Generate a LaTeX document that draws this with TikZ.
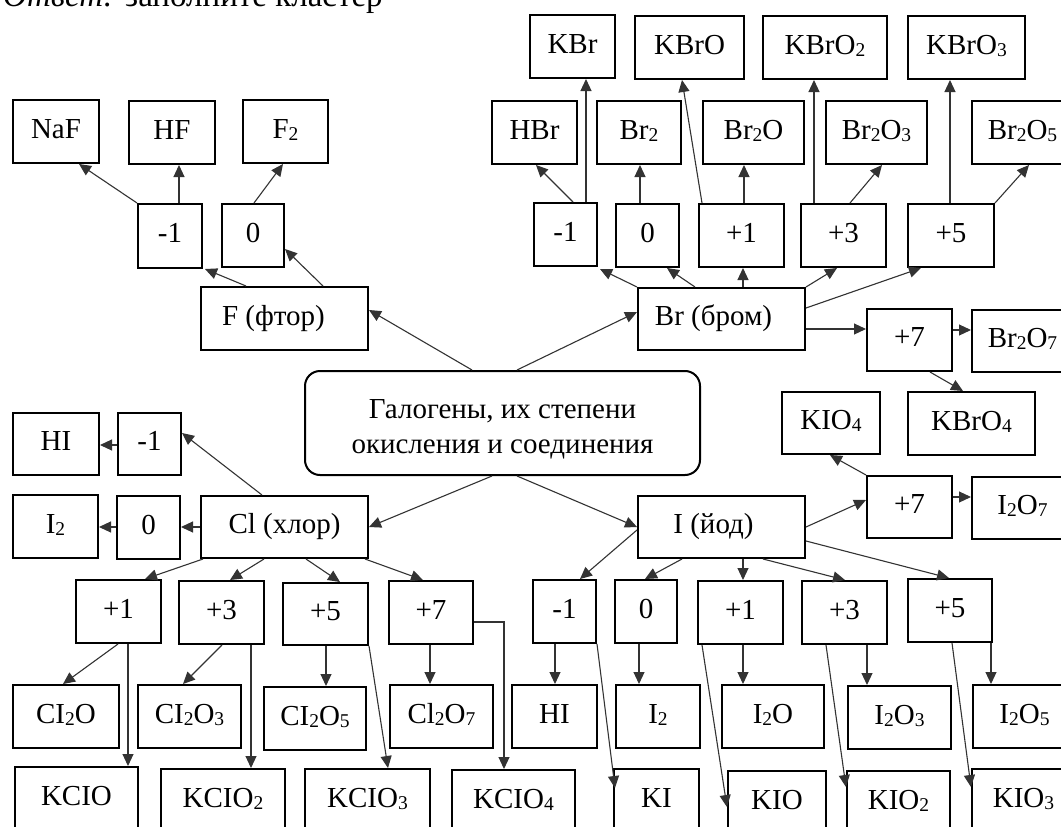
\documentclass[tikz,border=0pt]{standalone}
\usepackage{fontspec}
\setmainfont{Liberation Serif}
\usetikzlibrary{arrows.meta}
\newcommand{\sbt}[1]{\raisebox{-2pt}{\fontsize{19.5}{19.5}\selectfont #1}}
\newcommand{\mybox}[6]{\node[box,minimum width={#4pt-#2pt},minimum height={#5pt-#3pt}] (#1) at (#2,#3) {#6};}
\begin{document}
\begin{tikzpicture}[x=1pt,y=-1pt,
  box/.style={draw=black,line width=2pt,inner sep=0pt,anchor=north west,
    font=\fontsize{29}{35}\selectfont,text height=19.5pt,text depth=6pt},
  cbox/.style={draw=black,line width=2pt,inner sep=0pt,anchor=north west,
    rounded corners=15pt,align=center,font=\fontsize{29}{35}\selectfont},
  arr/.style={draw=black!80,line width=1.1pt,-{Triangle[length=12pt,width=11pt]}}]
\fill[white] (0,0) rectangle (1061,827);
\useasboundingbox (0,0) rectangle (1061,827);

\node[anchor=base west,inner sep=0pt,font=\fontsize{33}{33}\selectfont] (ans) at (3,6) {\textit{Ответ:} заполните кластер};

% center
\node[cbox,minimum width=395pt,minimum height=104pt] (cen) at (304,370)
  {Галогены, их степени\rule{0pt}{31pt}\\окисления и соединения};

% fluorine
\mybox{naf}{12}{99}{98}{162}{NaF}
\mybox{hf}{128}{100}{214}{163}{HF}
\mybox{ftwo}{242}{99}{327}{162}{F\sbt{2}}
\mybox{fm1}{137}{203}{201}{267}{-1}
\mybox{fzero}{221}{203}{283}{266}{0}
\mybox{fl}{200}{286}{367}{349}{F (фтор)\hspace*{22pt}}

% chlorine
\mybox{hil}{12}{412}{98}{474}{HI}
\mybox{clm1}{117}{412}{180}{474}{-1}
\mybox{itwol}{12}{494}{97}{557}{I\sbt{2}}
\mybox{clzero}{116}{495}{179}{558}{0}
\mybox{cl}{200}{495}{367}{557}{Cl (хлор)}
\mybox{clpa}{75}{579}{160}{642}{+1}
\mybox{clpb}{178}{580}{263}{643}{+3}
\mybox{clpc}{282}{582}{367}{644}{+5}
\mybox{clpd}{388}{580}{472}{643}{+7}
\mybox{clo}{12}{684}{118}{747}{CI\sbt{2}O}
\mybox{cloc}{137}{684}{240}{747}{CI\sbt{2}O\sbt{3}}
\mybox{cloe}{263}{686}{365}{749}{CI\sbt{2}O\sbt{5}}
\mybox{clog}{389}{684}{492}{747}{Cl\sbt{2}O\sbt{7}}
\mybox{kclo}{14}{766}{137}{829}{KCIO}
\mybox{kclob}{160}{768}{284}{831}{KCIO\sbt{2}}
\mybox{kcloc}{304}{768}{429}{831}{KCIO\sbt{3}}
\mybox{kclod}{451}{769}{574}{832}{KCIO\sbt{4}}

% bromine
\mybox{kbr}{529}{14}{614}{77}{KBr}
\mybox{kbro}{634}{15}{743}{78}{KBrO}
\mybox{kbrob}{762}{15}{886}{78}{KBrO\sbt{2}}
\mybox{kbroc}{907}{15}{1024}{78}{KBrO\sbt{3}}
\mybox{hbr}{491}{100}{576}{163}{HBr}
\mybox{brtwo}{596}{100}{680}{163}{Br\sbt{2}}
\mybox{bro}{702}{100}{803}{163}{Br\sbt{2}O}
\mybox{broc}{825}{100}{926}{163}{Br\sbt{2}O\sbt{3}}
\mybox{broe}{971}{100}{1072}{163}{Br\sbt{2}O\sbt{5}}
\mybox{brm1}{533}{202}{596}{265}{-1}
\mybox{brzero}{615}{203}{678}{266}{0}
\mybox{brpa}{698}{203}{783}{266}{+1}
\mybox{brpb}{800}{203}{885}{266}{+3}
\mybox{brpc}{907}{203}{993}{266}{+5}
\mybox{br}{637}{287}{804}{349}{Br (бром)\hspace*{16pt}}
\mybox{brpd}{866}{308}{951}{370}{+7}
\mybox{brog}{971}{309}{1072}{371}{Br\sbt{2}O\sbt{7}}
\mybox{kbrod}{907}{391}{1034}{454}{KBrO\sbt{4}}

% iodine
\mybox{kiod}{781}{391}{879}{453}{KIO\sbt{4}}
\mybox{ipd}{866}{475}{951}{537}{+7}
\mybox{iog}{971}{476}{1072}{538}{I\sbt{2}O\sbt{7}}
\mybox{iod}{637}{495}{804}{557}{I (йод)\hspace*{16pt}}
\mybox{imm}{532}{579}{595}{642}{-1}
\mybox{izero}{614}{579}{676}{642}{0}
\mybox{ipa}{697}{580}{782}{643}{+1}
\mybox{ipb}{801}{580}{886}{643}{+3}
\mybox{ipc}{907}{578}{991}{641}{+5}
\mybox{hi}{511}{684}{596}{747}{HI}
\mybox{itwo}{615}{684}{699}{747}{I\sbt{2}}
\mybox{io}{721}{684}{823}{747}{I\sbt{2}O}
\mybox{ioc}{847}{685}{950}{748}{I\sbt{2}O\sbt{3}}
\mybox{ioe}{972}{684}{1075}{747}{I\sbt{2}O\sbt{5}}
\mybox{ki}{613}{768}{698}{831}{KI}
\mybox{kio}{727}{770}{825}{833}{KIO}
\mybox{kiob}{846}{770}{949}{833}{KIO\sbt{2}}
\mybox{kioc}{971}{768}{1074}{831}{KIO\sbt{3}}

% fluorine arrows
\draw[arr] (fm1.north west) -- ([xshift=67pt]naf.south west);
\draw[arr] ([xshift=42pt]fm1.north west) -- ([xshift=42pt]fm1.north west |- hf.south);
\draw[arr] ([xshift=33pt]fzero.north west) -- ([xshift=41pt]ftwo.south west);
\draw[arr] ([xshift=46pt]fl.north west) -- ([xshift=2pt]fm1.south east);
\draw[arr] ([xshift=123pt]fl.north west) -- ([yshift=19pt]fzero.south east);
\draw[arr] ([xshift=168pt]cen.north west) -- ([yshift=-24pt]fl.north east);

% chlorine arrows
\draw[arr] ([xshift=188pt]cen.south west) -- ([yshift=-32pt]cl.north east);
\draw[arr] ([xshift=62pt]cl.north west) -- ([yshift=-21pt]clm1.north east);
\draw[arr] ([yshift=-33pt]clm1.north west) -- ([yshift=-33pt]clm1.north west -| hil.east);
\draw[arr] ([yshift=-32pt]cl.north west) -- ([yshift=-32pt]cl.north west -| clzero.east);
\draw[arr] ([yshift=-32pt]clzero.north west) -- ([yshift=-32pt]clzero.north west -| itwol.east);
\draw[arr] ([xshift=3pt]cl.south west) -- ([xshift=70pt]clpa.north west);
\draw[arr] ([xshift=64pt]cl.south west) -- ([xshift=52pt]clpb.north west);
\draw[arr] ([xshift=106pt]cl.south west) -- ([xshift=58pt]clpc.north west);
\draw[arr] ([xshift=165pt]cl.south west) -- ([xshift=35pt]clpd.north west);
\draw[arr] ([xshift=43pt]clpa.south west) -- ([xshift=51pt]clo.north west);
\draw[arr] ([xshift=53pt]clpa.south west) -- ([xshift=53pt]clpa.south west |- kclo.north);
\draw[arr] ([xshift=44pt]clpb.south west) -- ([xshift=46pt]cloc.north west);
\draw[arr] ([xshift=73pt]clpb.south west) -- ([xshift=73pt]clpb.south west |- kclob.north);
\draw[arr] ([xshift=44pt]clpc.south west) -- ([xshift=44pt]clpc.south west |- cloe.north);
\draw[arr] (clpc.south east) -- ([xshift=84pt]kcloc.north west);
\draw[arr] ([xshift=42pt]clpd.south west) -- ([xshift=42pt]clpd.south west |- clog.north);
\draw[arr] ([yshift=-42pt]clpd.north east) -| ([xshift=53pt]kclod.north west);

% bromine arrows
\draw[arr] ([xshift=213pt]cen.north west) -- ([yshift=-25pt]br.north west);
\draw[arr] (br.north west) -- ([xshift=2pt,yshift=-2pt]brm1.south east);
\draw[arr] ([xshift=58pt]br.north west) -- ([xshift=52pt]brzero.south west);
\draw[arr] ([xshift=106pt]br.north west) -- ([xshift=106pt]br.north west |- brpa.south);
\draw[arr] (br.north east) -- ([xshift=37pt]brpb.south west);
\draw[arr] ([yshift=-21pt]br.north east) -- ([xshift=14pt]brpc.south west);
\draw[arr] ([yshift=-42pt]br.north east) -- ([yshift=-42pt]br.north east -| brpd.west);
\draw[arr] ([yshift=-22pt]brpd.north east) -- ([yshift=-22pt]brpd.north east -| brog.west);
\draw[arr] ([xshift=64pt]brpd.south west) -- ([xshift=56pt]kbrod.north west);
\draw[arr] ([xshift=40pt]brm1.north west) -- ([xshift=45pt]hbr.south west);
\draw[arr] ([xshift=53pt]brm1.north west) -- ([xshift=53pt]brm1.north west |- kbr.south);
\draw[arr] ([xshift=25pt]brzero.north west) -- ([xshift=25pt]brzero.north west |- brtwo.south);
\draw[arr] ([xshift=46pt]brpa.north west) -- ([xshift=46pt]brpa.north west |- bro.south);
\draw[arr] ([xshift=4pt]brpa.north west) -- ([xshift=48pt]kbro.south west);
\draw[arr] ([xshift=14pt]brpb.north west) -- ([xshift=14pt]brpb.north west |- kbrob.south);
\draw[arr] ([xshift=50pt]brpb.north west) -- ([xshift=57pt]broc.south west);
\draw[arr] ([xshift=43pt]brpc.north west) -- ([xshift=43pt]brpc.north west |- kbroc.south);
\draw[arr] (brpc.north east) -- ([xshift=58pt]broe.south west);

% iodine arrows
\draw[arr] ([xshift=213pt]cen.south west) -- ([yshift=-32pt]iod.north west);
\draw[arr] ([yshift=-32pt]iod.north east) -- ([yshift=-25pt]ipd.north west);
\draw[arr] (ipd.north west) -- ([xshift=49pt]kiod.south west);
\draw[arr] ([yshift=-22pt]ipd.north east) -- ([yshift=-22pt]ipd.north east -| iog.west);
\draw[arr] ([yshift=-35pt]iod.north west) -- ([xshift=48pt]imm.north west);
\draw[arr] ([xshift=45pt]iod.south west) -- ([xshift=31pt]izero.north west);
\draw[arr] ([xshift=106pt]iod.south west) -- ([xshift=106pt]iod.south west |- ipa.north);
\draw[arr] ([xshift=126pt]iod.south west) -- ([xshift=44pt]ipb.north west);
\draw[arr] ([yshift=-46pt]iod.north east) -- ([xshift=42pt]ipc.north west);
\draw[arr] ([xshift=23pt]imm.south west) -- ([xshift=23pt]imm.south west |- hi.north);
\draw[arr] (imm.south east) -- ([xshift=2pt,yshift=-20pt]ki.north west);
\draw[arr] ([xshift=25pt]izero.south west) -- ([xshift=25pt]izero.south west |- itwo.north);
\draw[arr] ([xshift=46pt]ipa.south west) -- ([xshift=46pt]ipa.south west |- io.north);
\draw[arr] ([xshift=5pt]ipa.south west) -- ([yshift=-37pt]kio.north west);
\draw[arr] ([xshift=66pt]ipb.south west) -- ([xshift=66pt]ipb.south west |- ioc.north);
\draw[arr] ([xshift=25pt]ipb.south west) -- ([yshift=-17pt]kiob.north west);
\draw[arr] ([xshift=84pt]ipc.south west) -- ([xshift=84pt]ipc.south west |- ioe.north);
\draw[arr] ([xshift=45pt]ipc.south west) -- ([yshift=-19pt]kioc.north west);
\end{tikzpicture}
\end{document}
